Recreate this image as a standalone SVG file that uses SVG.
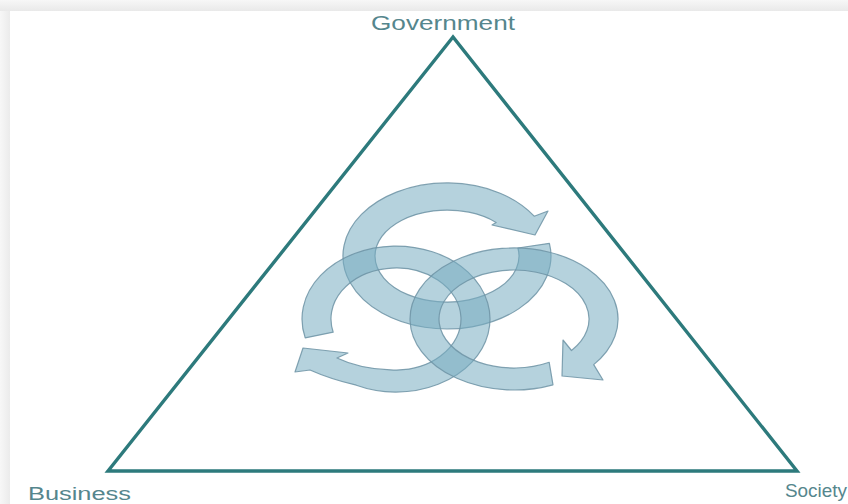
<svg xmlns="http://www.w3.org/2000/svg" width="848" height="504" viewBox="0 0 848 504">
  <style>
    .lbl { font-family: "Liberation Sans", Arial, sans-serif; fill: #55868d; }
    .ring { fill: #76acc0; fill-opacity: 0.54; stroke: #6d93a5; stroke-opacity: 0.85; stroke-width: 1.2; stroke-linejoin: round; }
    .tri { fill: none; stroke: #2d7a7c; stroke-width: 3.4; stroke-linejoin: miter; }
  </style>
  <defs>
    <linearGradient id="topband" x1="0" y1="0" x2="0" y2="1">
      <stop offset="0" stop-color="#f7f7f7"/>
      <stop offset="1" stop-color="#e9e9e9"/>
    </linearGradient>
    <linearGradient id="leftband" x1="0" y1="0" x2="1" y2="0">
      <stop offset="0" stop-color="#f7f7f7"/>
      <stop offset="1" stop-color="#ebebeb"/>
    </linearGradient>
  </defs>

  <!-- background frame -->
  <rect x="0" y="0" width="848" height="504" fill="#ffffff"/>
  <rect x="0" y="0" width="848" height="11" fill="url(#topband)"/>
  <rect x="0" y="11" width="10" height="493" fill="url(#leftband)"/>

  <!-- triangle -->
  <g id="triangle">
    <polygon class="tri" points="453,37 108,471 797,471"/>
  </g>

  <!-- circular arrows -->
  <g id="arrow-top">
    <path class="ring" d="M 549.4,243.3 A 104 73 0 1 1 534.2,216.2 L 548,211 L 535,235 L 492,225 L 496.1,222.4 A 72 46 0 1 0 517.9,248 Z"/>
  </g>
  <g id="arrow-left">
    <path class="ring" d="M 305.2,337.9 A 94 73 0 1 1 356.3,385.2 Q 330,379 310,370 L 295,372 L 303,348 L 348,353 L 337,358 Q 360,369 390.3,369.8 A 65 51 0 1 0 333.2,332.2 Z"/>
  </g>
  <g id="arrow-right">
    <path class="ring" d="M 553,384.8 A 104 71 0 1 1 593.7,364.6 L 603,380 L 562,376 L 563,340 L 571.5,350.5 A 75 49 0 1 0 549.2,362.3 Z"/>
  </g>

  <!-- labels -->
  <g id="node-government">
    <text class="lbl" x="371" y="30" font-size="20" textLength="144" lengthAdjust="spacingAndGlyphs">Government</text>
  </g>
  <g id="node-business">
    <text class="lbl" x="28" y="500" font-size="18" textLength="103" lengthAdjust="spacingAndGlyphs">Business</text>
  </g>
  <g id="node-society">
    <text class="lbl" x="785" y="497" font-size="19" textLength="62" lengthAdjust="spacingAndGlyphs">Society</text>
  </g>
</svg>
